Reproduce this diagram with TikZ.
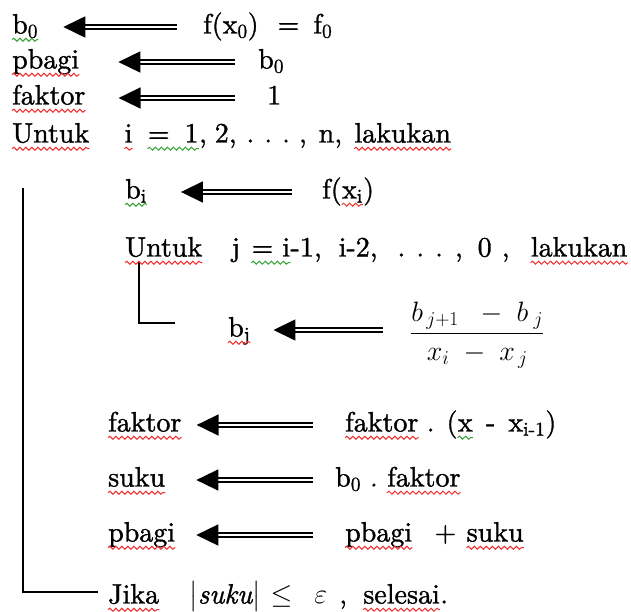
\RequirePackage{fix-cm}
\documentclass[tikz,border=0pt]{standalone}
\usepackage{amsmath}
\usepackage[no-math]{fontspec}
\setmainfont{lmroman10-regular.otf}[ItalicFont=lmroman10-italic.otf, RawFeature={embolden=1.2}]
\usetikzlibrary{arrows.meta,positioning,decorations.pathmorphing}

\definecolor{sqred}{RGB}{240,45,45}
\definecolor{sqgreen}{RGB}{50,160,50}

\tikzset{
  txt/.style={anchor=west, inner sep=0pt, text height=20pt, text depth=7pt, font=\fontsize{28}{34}\selectfont},
  frac/.style={anchor=base west, inner sep=0pt, font=\fontsize{28}{34}\selectfont},
  dblarr/.style={line width=1.6pt, double distance=2.6pt, -{Triangle[length=22pt,width=21pt]}},
  brace/.style={line width=1.3pt},
  wave/.style={draw=#1, line width=1pt, decorate, decoration={snake, segment length=6pt, amplitude=1.5pt}},
}

\begin{document}
\begin{tikzpicture}[x=1pt,y=-1pt]
\useasboundingbox (0,0) rectangle (631,612);
% start values
\node[txt] (b0) at (12,27) {b\textsubscript{0}};
\node[txt] (fx0) at (203,27) {f(x\textsubscript{0})\hspace{19pt}=\hspace{14pt}f\textsubscript{0}};
\node[txt] (pb) at (12,62) {pbagi};
\node[txt] (b0r) at (258,62) {b\textsubscript{0}};
\node[txt] (fk) at (12,98) {faktor};
\node[txt] (one) at (267,98) {1};
\node[txt] (u1) at (12,136) {Untuk};
\node[txt, right=35pt of u1] (i1) {i};
\node[txt, right=15pt of i1] (eq1) {=\hspace{15pt}1};
\node[txt, right=0pt of eq1] (rng1) {,\hspace{8pt}2,\hspace{10pt}.\hspace{10pt}.\hspace{10pt}.\hspace{9pt},\hspace{12pt}n,};
\node[txt, right=12pt of rng1] (lk1) {lakukan};
% outer loop
\node[txt] (bi) at (125,192) {b\textsubscript{i}};
\node[txt] (fxi) at (322,192) {f(};
\node[txt, right=0pt of fxi] (xi) {x\textsubscript{i}};
\node[txt, right=0pt of xi] (fxe) {)};
\node[txt] (u2) at (125,250) {Untuk};
\node[txt, right=29pt of u2] (j2) {j};
\node[txt, right=11pt of j2] (eq2) {=\hspace{9pt}i};
\node[txt, right=0pt of eq2] (rng2) {-1,\hspace{17pt}i-2,\hspace{20pt}.\hspace{11pt}.\hspace{11pt}.\hspace{12pt},\hspace{15pt}0\hspace{10pt},};
\node[txt, right=21pt of rng2] (lk2) {lakukan};
% inner loop
\node[txt] (bj) at (228,330) {b\textsubscript{j}};
\node[frac] (dd) at (410,340) {$\dfrac{\rule[-6pt]{0pt}{6pt}b_{\,j+1}\;\;-\;b_{\;j}}{\rule{0pt}{24pt}x_{i}\;-\;x_{\,j}}$};
% term of the series
\node[txt] (fk2) at (108,425) {faktor};
\node[txt] (fk3) at (345,425) {faktor};
\node[txt, right=8pt of fk3] (fkr) {.\hspace{12pt}(};
\node[txt, right=0pt of fkr] (x3) {x};
\node[txt, right=13pt of x3] (xr) {-\hspace{13pt}x\textsubscript{i-1})};
\node[txt] (sk) at (108,480) {suku};
\node[txt] (skr) at (335,480) {b\textsubscript{0}\hspace{9pt}.};
\node[txt, right=9pt of skr] (fk4) {faktor};
\node[txt] (pb2) at (108,535) {pbagi};
\node[txt] (pb3) at (345,535) {pbagi};
\node[txt, right=22pt of pb3] (plus) {+};
\node[txt, right=10pt of plus] (sk2) {suku};
% stop test
\node[txt] (jk) at (108,597) {Jika};
\node[txt, right=30pt of jk] (cond) {$\left|\rule[-9pt]{0pt}{29pt}\text{\itshape suku}\right|$\hspace{10pt}$\le$\hspace{22pt}$\varepsilon$\hspace{12pt},};
\node[txt, right=16pt of cond] (sl) {selesai};
\node[txt, right=0pt of sl] (dot) {.};

\draw[dblarr, shorten <=26pt, shorten >=25pt] (fx0.west) -- (b0.east);
\draw[dblarr, shorten <=23pt, shorten >=39pt] (b0r.west) -- (pb.east);
\draw[dblarr, shorten <=32pt, shorten >=33pt] (one.west) -- (fk.east);
\draw[dblarr, shorten <=30pt, shorten >=34pt] (fxi.west) -- (bi.east);
\draw[dblarr, shorten <=27pt, shorten >=23pt] (bj.east -| dd.west) -- (bj.east);
\draw[dblarr, shorten <=32pt, shorten >=15pt] (fk3.west) -- (fk2.east);
\draw[dblarr, shorten <=22pt, shorten >=31pt] (skr.west) -- (sk.east);
\draw[dblarr, shorten <=32pt, shorten >=21pt] (pb3.west) -- (pb2.east);

\draw[brace] (23,188) -- (23,592) -- (98,592);
\draw[brace] (139,262) -- (139,323) -- (175,323);

% spell-check marks
\foreach \n in {pb,fk,u1,i1,lk1,xi,u2,lk2,bj,fk2,fk3,sk,fk4,pb2,pb3,sk2,jk,sl}
  \draw[wave=sqred] ([yshift=1pt]\n.south west) -- ([yshift=1pt]\n.south east);
\foreach \n in {b0,eq1,bi,eq2,x3}
  \draw[wave=sqgreen] ([yshift=1pt]\n.south west) -- ([yshift=1pt]\n.south east);
\end{tikzpicture}
\end{document}
